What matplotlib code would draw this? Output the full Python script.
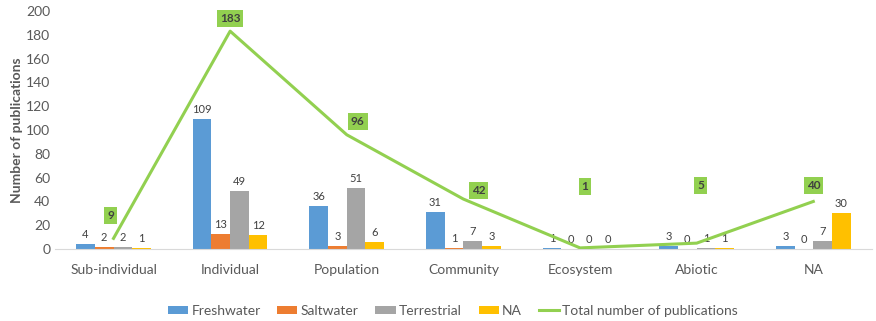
import numpy as np
import matplotlib
matplotlib.use('Agg')
import matplotlib.pyplot as plt

# Publications per level of biological organisation, split by habitat
levels = ['Sub-individual', 'Individual', 'Population', 'Community',
          'Ecosystem', 'Abiotic', 'NA']
freshwater = [4, 109, 36, 31, 1, 3, 3]
saltwater = [2, 13, 3, 1, 0, 0, 0]
terrestrial = [2, 49, 51, 7, 0, 1, 7]
habitat_na = [1, 12, 6, 3, 0, 1, 30]
total = [9, 183, 96, 42, 1, 5, 40]

series = [('Freshwater', freshwater, '#5B9BD5'),
          ('Saltwater', saltwater, '#ED7D31'),
          ('Terrestrial', terrestrial, '#A5A5A5'),
          ('NA', habitat_na, '#FFC000')]

# offsets (pixels) of the total labels from their line points
total_offsets = [(-3, 23), (0, 13), (11, 13), (15, 9), (5, 61), (4, 58), (0, 16)]


def main():
    plt.rcParams['font.family'] = ['Lato', 'DejaVu Sans']
    text_col = '#595959'

    fig = plt.figure(figsize=(8.76, 3.21), dpi=100)
    ax = fig.add_axes([0.063, 0.224, 0.932, 0.742])

    x = np.arange(len(levels))
    w = 0.16
    for i, (name, vals, col) in enumerate(series):
        pos = x + (i - 1.5) * w
        ax.bar(pos, vals, width=w, color=col, label=name, zorder=2)
        for px, v in zip(pos, vals):
            ax.annotate(str(v), (px, v), xytext=(0, 4),
                        textcoords='offset pixels', ha='center', va='bottom',
                        fontsize=8, color='#404040')

    ax.plot(x, total, color='#92D050', lw=2.2, label='Total number of publications',
            zorder=3)
    for xi, v, (dx, dy) in zip(x, total, total_offsets):
        ax.annotate(str(v), (xi, v), xytext=(dx, dy), textcoords='offset pixels',
                    ha='center', va='center', fontsize=8.5, fontweight='bold',
                    color='#404040', zorder=4,
                    bbox=dict(boxstyle='square,pad=0.25', fc='#92D050', ec='none'))

    ax.set_xlim(-0.5, len(levels) - 0.5)
    ax.set_ylim(0, 200)
    ax.set_yticks(range(0, 201, 20))
    ax.set_xticks(x)
    ax.set_xticklabels(levels)
    ax.tick_params(axis='both', length=0, labelsize=10, colors=text_col)
    ax.tick_params(axis='x', pad=11)
    ax.set_ylabel('Number of publications', fontsize=10, fontweight='bold',
                  color=text_col, labelpad=2)

    for side in ['top', 'right', 'left']:
        ax.spines[side].set_visible(False)
    ax.spines['bottom'].set_color('#D9D9D9')

    handles, labels = ax.get_legend_handles_labels()
    order = [1, 2, 3, 4, 0]
    fig.legend([handles[i] for i in order], [labels[i] for i in order],
               loc='center', bbox_to_anchor=(0.517, 0.032), ncol=5, frameon=False,
               fontsize=10, labelcolor=text_col, handlelength=1.45,
               handleheight=0.55, handletextpad=0.25, columnspacing=1.2)

    fig.savefig('out.png', dpi=100)


if __name__ == '__main__':
    main()
